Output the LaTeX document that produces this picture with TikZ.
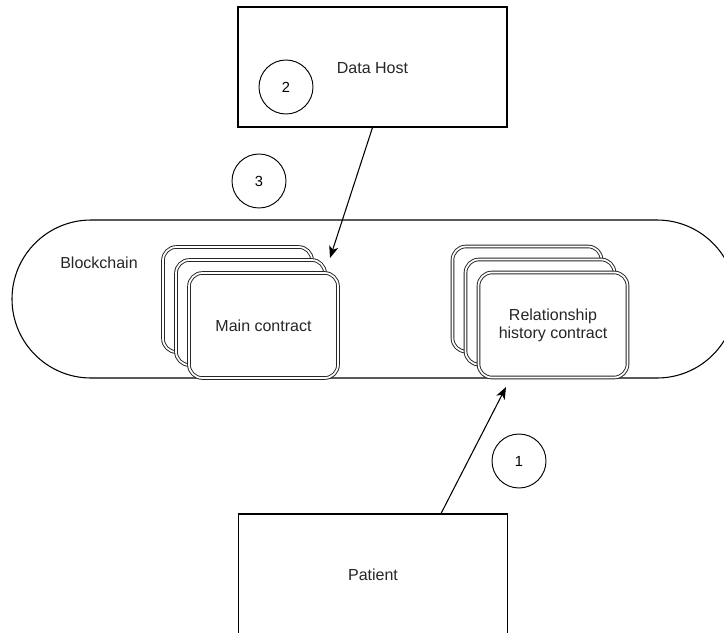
\documentclass[tikz,border=0pt]{standalone}
\usepackage{fontspec}
\setmainfont{Liberation Sans}
\usetikzlibrary{arrows.meta,calc}

\tikzset{
  label text/.style={font=\fontsize{12pt}{13.5pt}\selectfont, text=black!85},
  actorbox/.style={draw, line width=0.8pt, fill=white, minimum width=201.75pt, minimum height=90pt, inner sep=0pt},
  chainbox/.style={draw, line width=0.8pt, rounded corners=59.25pt, minimum width=543pt, minimum height=118.5pt, inner sep=0pt},
  contractbox/.style={draw=black!85, line width=0.7pt, double=white, double distance=1.3pt, fill=white,
    rounded corners=10pt, minimum width=111.75pt, minimum height=78.75pt, inner sep=0pt, align=center},
  stepnum/.style={draw, circle, line width=0.7pt, minimum size=40.5pt, inner sep=0pt, font=\fontsize{11pt}{13pt}\selectfont},
  flow/.style={draw, line width=0.8pt, -{Stealth[length=9pt, width=7pt, inset=2.5pt]}}
}

\begin{document}
\begin{tikzpicture}[x=0.75pt, y=-0.75pt]
  \useasboundingbox (0,0) rectangle (724,632);

  % blockchain container (runs past the right edge)
  \node[chainbox] (chain) at (374,299) {};
  \node[label text] (chainlbl) at (99,263) {Blockchain};

  % data host and patient
  \node[actorbox] (host) at (372.5,67) {};
  \node[label text] (hostlbl) at (372.5,68) {Data Host};
  \node[actorbox] (patient) at (373,574) {};
  \node[label text] (patientlbl) at (373,575) {Patient};

  % main contract stack
  \node[contractbox] (mainC) at (237.5,299.5) {};
  \node[contractbox] (mainB) at (250.5,312.5) {};
  \node[contractbox, label text] (mainA) at (263.5,325.5) {Main contract};

  % relationship history contract stack
  \node[contractbox] (relC) at (527,299) {};
  \node[contractbox] (relB) at (540,312) {};
  \node[contractbox, label text] (relA) at (553,325) {Relationship\\history contract};

  % numbered steps
  \node[stepnum] (s1) at (519,461) {1};
  \node[stepnum] (s2) at (286,87) {2};
  \node[stepnum] (s3) at (259,181) {3};

  % connectors
  \coordinate (mainTip) at (330,258);
  \coordinate (relTip) at (506,387);
  \draw[flow] (host.south) -- (mainTip);
  \draw[flow] ([xshift=-50.25pt]patient.north east) -- (relTip);
\end{tikzpicture}
\end{document}
